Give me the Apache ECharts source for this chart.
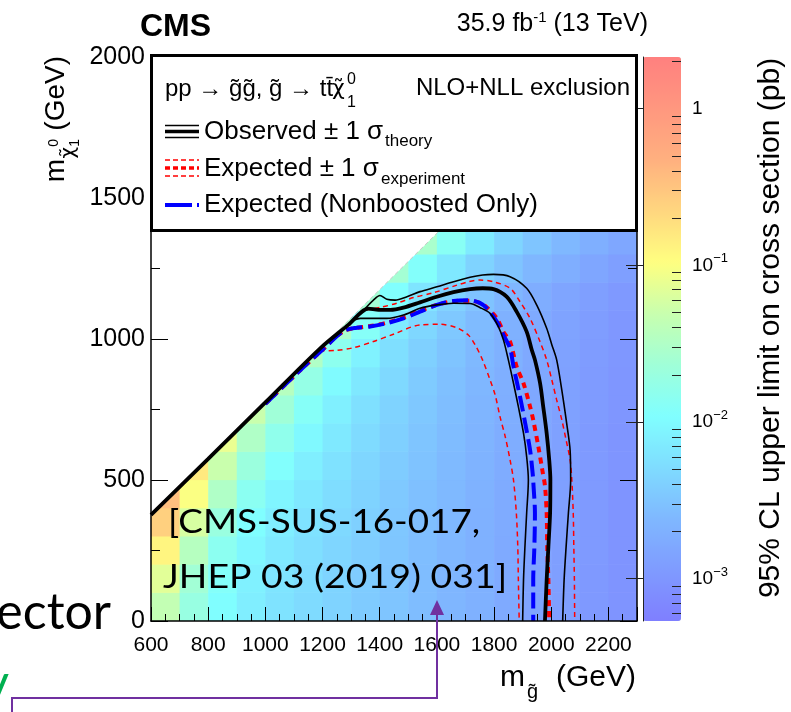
<!DOCTYPE html>
<html>
<head>
<meta charset="utf-8">
<script src="https://cdn.jsdelivr.net/npm/echarts@6/dist/echarts.min.js"></script>
<style>
  html, body { margin: 0; padding: 0; background: #fff; }
  #chart { width: 791px; height: 712px; }
</style>
</head>
<body>
<div id="chart"></div>
<script>
// 100 GeV cells: low edges in m(gluino) and m(LSP)
const gluinoBins = [600, 700, 800, 900, 1000, 1100, 1200, 1300, 1400, 1500, 1600, 1700, 1800, 1900, 2000, 2100, 2200];
const lspBins = [0, 100, 200, 300, 400, 500, 600, 700, 800, 900, 1000, 1100, 1200, 1300];
// log10 of the 95% CL upper limit (pb), one row per lspBin
const logLimit = [
  [-1.35, -1.72, -1.97, -2.12, -2.22, -2.30, -2.37, -2.44, -2.50, -2.57, -2.64, -2.70, -2.77, -2.84, -2.90, -2.97, -3.03],
  [-1.15, -1.62, -1.92, -2.09, -2.20, -2.28, -2.36, -2.43, -2.50, -2.57, -2.64, -2.70, -2.77, -2.84, -2.90, -2.97, -3.03],
  [-0.90, -1.45, -1.84, -2.04, -2.17, -2.26, -2.34, -2.42, -2.49, -2.56, -2.63, -2.70, -2.77, -2.84, -2.90, -2.96, -3.02],
  [-0.60, -1.22, -1.70, -1.97, -2.12, -2.23, -2.32, -2.40, -2.48, -2.55, -2.62, -2.69, -2.76, -2.83, -2.90, -2.96, -3.02],
  [-0.45, -1.00, -1.50, -1.85, -2.05, -2.18, -2.28, -2.37, -2.46, -2.54, -2.61, -2.68, -2.76, -2.83, -2.89, -2.95, -3.02],
  [null, -0.80, -1.30, -1.68, -1.94, -2.11, -2.23, -2.34, -2.43, -2.52, -2.60, -2.67, -2.75, -2.82, -2.89, -2.95, -3.01],
  [null, null, -1.10, -1.50, -1.80, -2.02, -2.17, -2.30, -2.40, -2.50, -2.58, -2.66, -2.74, -2.81, -2.88, -2.95, -3.01],
  [null, null, null, -1.30, -1.63, -1.90, -2.10, -2.25, -2.37, -2.47, -2.56, -2.65, -2.73, -2.80, -2.87, -2.94, -3.00],
  [null, null, null, null, -1.45, -1.75, -2.00, -2.18, -2.32, -2.44, -2.54, -2.63, -2.72, -2.80, -2.87, -2.94, -3.00],
  [null, null, null, null, null, -1.50, -1.83, -2.08, -2.26, -2.40, -2.51, -2.61, -2.70, -2.78, -2.86, -2.93, -2.99],
  [null, null, null, null, null, null, -1.55, -1.90, -2.15, -2.33, -2.47, -2.59, -2.69, -2.77, -2.85, -2.92, -2.99],
  [null, null, null, null, null, null, null, -1.60, -1.95, -2.20, -2.38, -2.52, -2.64, -2.74, -2.83, -2.90, -2.97],
  [null, null, null, null, null, null, null, null, -1.60, -1.93, -2.18, -2.37, -2.51, -2.63, -2.73, -2.82, -2.90],
  [null, null, null, null, null, null, null, null, null, -1.55, -1.88, -2.15, -2.35, -2.50, -2.62, -2.72, -2.81]
];
const cellSize = 100;

// kinematic edge m(LSP) = m(gluino) - 225
const kinematicEdge = [[600, 375], [2000, 1775]];

const observed = [[600, 376], [800, 575], [1000, 775], [1192, 967], [1290, 1050], [1361, 1108], [1396, 1103], [1437, 1103], [1483, 1111], [1541, 1130], [1600, 1150], [1658, 1166], [1716, 1177], [1760, 1180], [1798, 1177], [1844, 1150], [1879, 1097], [1914, 1026], [1932, 961], [1943, 926], [1961, 843], [1972, 760], [1984, 666], [1993, 571], [1997, 500], [1996, 382], [1990, 263], [1984, 145], [1978, 0]];
const observedUp = [[1330, 1090], [1349, 1108], [1378, 1138], [1401, 1154], [1425, 1141], [1454, 1138], [1495, 1150], [1541, 1168], [1600, 1185], [1658, 1203], [1716, 1219], [1760, 1227], [1798, 1229], [1856, 1221], [1914, 1180], [1949, 1121], [1984, 1038], [2002, 980], [2019, 926], [2037, 819], [2054, 701], [2066, 606], [2068, 500], [2060, 382], [2052, 263], [2045, 145], [2040, 0]];
const observedDown = [[1310, 1067], [1332, 1073], [1367, 1073], [1425, 1073], [1483, 1085], [1541, 1109], [1600, 1121], [1658, 1127], [1716, 1126], [1750, 1112], [1786, 1091], [1815, 1044], [1833, 996], [1850, 926], [1868, 843], [1885, 760], [1903, 666], [1914, 583], [1920, 500], [1914, 382], [1908, 263], [1903, 145], [1900, 0]];
const expected = [[1000, 770], [1100, 868], [1200, 962], [1273, 1028], [1320, 1040], [1367, 1046], [1425, 1058], [1483, 1076], [1541, 1099], [1600, 1121], [1658, 1134], [1716, 1136], [1750, 1128], [1775, 1112], [1810, 1073], [1833, 1025], [1856, 990], [1879, 902], [1903, 843], [1926, 760], [1937, 713], [1955, 618], [1968, 540], [1978, 480], [1984, 382], [1986, 263], [1990, 145], [1993, 0]];
const expectedUp = [[1350, 1103], [1402, 1112], [1460, 1127], [1518, 1147], [1588, 1164], [1670, 1191], [1710, 1203], [1751, 1209], [1798, 1203], [1856, 1180], [1891, 1132], [1926, 1073], [1961, 990], [1984, 926], [2002, 855], [2019, 784], [2037, 713], [2052, 642], [2066, 571], [2072, 500], [2077, 382], [2079, 263], [2081, 145], [2082, 0]];
const expectedDown = [[1190, 958], [1250, 960], [1308, 969], [1378, 991], [1448, 1017], [1541, 1050], [1611, 1052], [1670, 1040], [1710, 1014], [1734, 979], [1760, 925], [1786, 855], [1804, 801], [1821, 724], [1839, 654], [1856, 571], [1868, 500], [1878, 382], [1883, 263], [1885, 145], [1888, 0]];
const nonboosted = [[1000, 770], [1100, 868], [1200, 962], [1273, 1028], [1320, 1040], [1367, 1044], [1425, 1056], [1483, 1073], [1541, 1097], [1600, 1121], [1658, 1135], [1716, 1137], [1750, 1128], [1775, 1109], [1810, 1061], [1833, 1014], [1856, 967], [1868, 902], [1891, 795], [1909, 701], [1926, 606], [1935, 524], [1938, 480], [1943, 382], [1941, 263], [1937, 145], [1937, 0]];

// colour scale, log10(pb)
const zMin = -3.27, zMax = 0.33;
const palette = ['#7f7fff', '#7f9bff', '#7fb8ff', '#7fdcff', '#80ffff', '#a0ffd8', '#c8ffae', '#ffff80', '#ffd67f', '#ffb07f', '#ff977f', '#ff807f'];
const colorTicks = [-3, -2, -1, 0];
const minorColorTicks = [];
[-4, -3, -2, -1, 0].forEach(function (d) {
  [2, 3, 4, 5, 6, 7, 8, 9].forEach(function (k) {
    const v = d + Math.log10(k);
    if (v > zMin && v < zMax) minorColorTicks.push(v);
  });
});

const heatData = [];
lspBins.forEach(function (y, i) {
  gluinoBins.forEach(function (x, j) {
    const v = logLimit[i][j];
    if (v !== null) heatData.push([x, y, v]);
  });
});

const FONT = 'Liberation Sans';

function renderCell(params, api) {
  const x = api.value(0), y = api.value(1);
  const a = api.coord([x, y]);
  const b = api.coord([x + cellSize, y + cellSize]);
  return {
    type: 'rect',
    shape: { x: a[0], y: b[1] - 0.5, width: b[0] - a[0] + 0.6, height: a[1] - b[1] + 0.6 },
    style: { fill: api.visual('color') }
  };
}

function contour(data, color, width, dash) {
  return {
    type: 'line', data: data, symbol: 'none', smooth: 0.3, silent: true, z: 3,
    xAxisIndex: 0, yAxisIndex: 0,
    lineStyle: { color: color, width: width, type: dash || 'solid' }
  };
}

function text(x, y, str, size, extra) {
  const el = {
    type: 'text', x: x, y: y, z: 101,
    style: { text: str, fontFamily: FONT, fontSize: size, fill: '#000', verticalAlign: 'middle', align: 'left' }
  };
  if (extra) {
    Object.keys(extra).forEach(function (k) {
      if (k === 'style') Object.assign(el.style, extra.style);
      else el[k] = extra[k];
    });
  }
  return el;
}

function sample(x1, x2, y, color, width, dash) {
  return {
    type: 'line', z: 101,
    shape: { x1: x1, y1: y, x2: x2, y2: y },
    style: { stroke: color, lineWidth: width, lineDash: dash || null }
  };
}

const plain = function (v) { return String(v); };

const chart = echarts.init(document.getElementById('chart'));

chart.setOption({
  animation: false,
  backgroundColor: '#fff',
  grid: [
    { left: 151, top: 57, right: 154, bottom: 91 },
    { left: 643, top: 57, width: 38, height: 564 }
  ],
  xAxis: [
    {
      gridIndex: 0, type: 'value', min: 600, max: 2300, interval: 200, z: 10,
      axisLine: { lineStyle: { color: '#000', width: 1.5 } },
      axisTick: { inside: true, length: 14, lineStyle: { color: '#000' } },
      minorTick: { show: true, splitNumber: 4, length: 7, lineStyle: { color: '#000' } },
      axisLabel: { fontFamily: FONT, fontSize: 21, color: '#000', margin: 14, showMaxLabel: false, formatter: plain },
      splitLine: { show: false }
    },
    { gridIndex: 1, type: 'value', show: false, min: 0, max: 1 }
  ],
  yAxis: [
    {
      gridIndex: 0, type: 'value', min: 0, max: 2000, interval: 500, z: 10,
      axisLine: { lineStyle: { color: '#000', width: 1.5 } },
      axisTick: { inside: true, length: 17, lineStyle: { color: '#000' } },
      minorTick: { show: true, splitNumber: 2, length: 9, lineStyle: { color: '#000' } },
      axisLabel: { fontFamily: FONT, fontSize: 25, color: '#000', margin: 6, formatter: plain },
      splitLine: { show: false }
    },
    {
      gridIndex: 0, type: 'value', min: 0, max: 2000, interval: 500, position: 'right', z: 10,
      axisLine: { lineStyle: { color: '#000', width: 1.5 } },
      axisTick: { inside: true, length: 17, lineStyle: { color: '#000' } },
      minorTick: { show: true, splitNumber: 2, length: 9, lineStyle: { color: '#000' } },
      axisLabel: { show: false },
      splitLine: { show: false }
    },
    {
      gridIndex: 1, type: 'value', min: zMin, max: zMax, position: 'right', z: 10,
      axisLine: { lineStyle: { color: '#222', width: 1 } },
      axisTick: { inside: true, length: 17, customValues: colorTicks, lineStyle: { color: '#222' } },
      axisLabel: {
        customValues: colorTicks, fontFamily: FONT, fontSize: 19, color: '#000', margin: 11,
        formatter: function (v) { return v === 0 ? '1' : '10{s|\u2212' + (-v) + '}'; },
        rich: { s: { fontFamily: FONT, fontSize: 13, color: '#000', padding: [0, 0, 13, 0] } }
      },
      splitLine: { show: false }
    },
    {
      gridIndex: 1, type: 'value', min: zMin, max: zMax, position: 'right', z: 10,
      axisLine: { show: false },
      axisTick: { inside: true, length: 9, customValues: minorColorTicks, lineStyle: { color: '#222' } },
      axisLabel: { show: false },
      splitLine: { show: false }
    }
  ],
  visualMap: {
    type: 'continuous', seriesIndex: 0, dimension: 2, min: zMin, max: zMax,
    calculable: false, hoverLink: false, padding: 0,
    left: 643, top: 57, itemWidth: 38, itemHeight: 564,
    inRange: { color: palette }
  },
  series: [
    {
      type: 'custom', xAxisIndex: 0, yAxisIndex: 0, clip: true, silent: true, z: 1,
      renderItem: renderCell, encode: { x: 0, y: 1 }, data: heatData
    },
    {
      type: 'line', xAxisIndex: 0, yAxisIndex: 0, data: kinematicEdge, symbol: 'none', silent: true, z: 2,
      lineStyle: { color: '#c8c8c8', width: 1, type: [4, 3] },
      areaStyle: { color: '#fff', opacity: 1, origin: 'end' }
    },
    contour(expectedUp, '#ff0000', 1.5, [5, 4]),
    contour(expectedDown, '#ff0000', 1.5, [5, 4]),
    contour(expected, '#ff0000', 4, [6, 5]),
    contour(nonboosted, '#0000ff', 4, [16, 6]),
    contour(observedUp, '#000', 1.6),
    contour(observedDown, '#000', 1.6),
    contour(observed, '#000', 3.8)
  ],
  graphic: {
    elements: [
      // header
      text(140, 27, 'CMS', 32, { style: { fontWeight: 'bold' } }),
      text(648, 24, '35.9 fb{s|-1} (13 TeV)', 25, {
        style: { align: 'right', rich: { s: { fontFamily: FONT, fontSize: 15, padding: [0, 0, 12, 0] } } }
      }),
      // legend box
      {
        type: 'rect', z: 99,
        shape: { x: 151.5, y: 55.5, width: 485, height: 175 },
        style: { fill: '#fff', stroke: '#000', lineWidth: 3 }
      },
      text(165, 89, 'pp \u2192 g\u0303g\u0303, g\u0303 \u2192 tt\u0304', 24),
      text(332, 89, '\u03c7\u0303', 22, { style: { fontFamily: 'DejaVu Sans' } }),
      text(347, 80, '0', 16),
      text(347, 103, '1', 16),
      text(630, 88, 'NLO+NLL exclusion', 24, { style: { align: 'right' } }),
      sample(165, 199, 125.5, '#000', 1.5),
      sample(165, 199, 131.5, '#000', 3.5),
      sample(165, 199, 137.5, '#000', 1.5),
      text(204, 131.5, 'Observed \u00b1 1 \u03c3', 26),
      text(385, 141, 'theory', 17),
      sample(165, 199, 160, '#ff0000', 1.5, [5, 3]),
      sample(165, 199, 168, '#ff0000', 3.5, [5, 3]),
      sample(165, 199, 176, '#ff0000', 1.5, [5, 3]),
      text(204, 168.5, 'Expected \u00b1 1 \u03c3', 26),
      text(381, 179, 'experiment', 17),
      sample(165, 199, 205, '#0000ff', 4, [27, 5]),
      text(204, 204.5, 'Expected (Nonboosted Only)', 26),
      // axis titles
      text(500, 678, 'm', 30),
      text(527, 692, 'g\u0303', 20),
      text(636, 678, '(GeV)', 30, { style: { align: 'right' } }),
      {
        type: 'group', x: 66, y: 56, rotation: Math.PI / 2,
        children: [
          text(0, -9.7, '(GeV)', 28, { style: { align: 'right' } }),
          text(-83, -12, '0', 14, { style: { align: 'right' } }),
          text(-83, 9, '1', 14, { style: { align: 'right' } }),
          text(-91, 3, '\u03c7\u0303', 20, { style: { align: 'right', fontFamily: 'DejaVu Sans' } }),
          text(-103, -9.7, 'm', 28, { style: { align: 'right' } })
        ]
      },
      text(770.5, 328, '95% CL upper limit on cross section (pb)', 30, {
        rotation: Math.PI / 2, style: { align: 'center' }
      }),
      // slide overlay
      text(168, 523, '[CMS-SUS-16-017,', 32, { scaleX: 1.15, style: { fontFamily: 'Lato' } }),
      text(163, 578, 'JHEP 03 (2019) 031]', 32, { scaleX: 1.17, style: { fontFamily: 'Lato' } }),
      text(111, 613, 'ector', 50, { style: { fontFamily: 'Lato', align: 'right' } }),
      text(9, 684, 'y', 50, { style: { fontFamily: 'Lato', align: 'right', fill: '#00b050' } }),
      {
        type: 'polyline', z: 101,
        shape: { points: [[12, 712], [12, 698], [437, 698], [437, 613]] },
        style: { stroke: '#7030a0', lineWidth: 2, fill: null }
      },
      {
        type: 'polygon', z: 101,
        shape: { points: [[430, 615], [444, 615], [437, 600]] },
        style: { fill: '#7030a0' }
      }
    ]
  }
});
</script>
</body>
</html>
